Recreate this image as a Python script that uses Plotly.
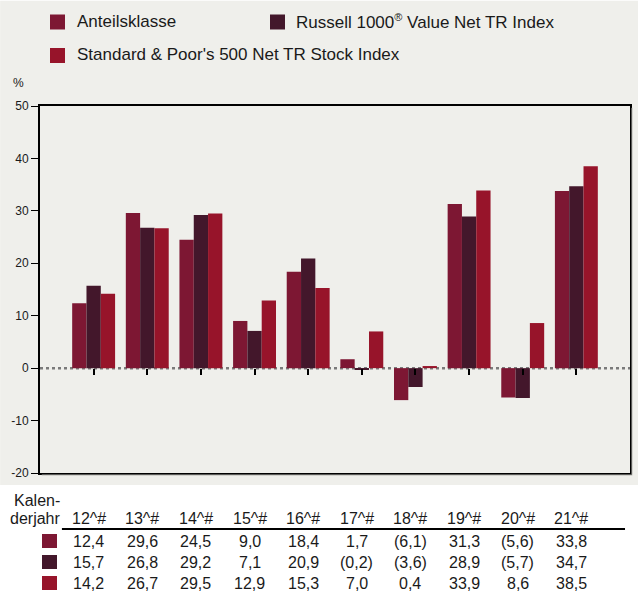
import plotly.graph_objects as go

years = ["12^#", "13^#", "14^#", "15^#", "16^#", "17^#", "18^#", "19^#", "20^#", "21^#"]
anteil = [12.4, 29.6, 24.5, 9.0, 18.4, 1.7, -6.1, 31.3, -5.6, 33.8]
russell = [15.7, 26.8, 29.2, 7.1, 20.9, -0.2, -3.6, 28.9, -5.7, 34.7]
sp500 = [14.2, 26.7, 29.5, 12.9, 15.3, 7.0, 0.4, 33.9, 8.6, 38.5]
names = ["Anteilsklasse",
         "Russell 1000<sup><span style='font-size:11px'>®</span></sup> Value Net TR Index",
         "Standard & Poor's 500 Net TR Stock Index"]
colors = ["#7D1733", "#43172B", "#97142A"]
yticks = [50, 40, 30, 20, 10, 0, -10, -20]

W, H = 640, 594
L, R, T, B = 40, 8, 105.5, 121
PW = W - L - R
PH = H - T - B
BOTTOM = H - B  # pixel y of plot bottom

FONT = "Liberation Sans, Arial, sans-serif"
xs = list(range(len(years)))

fig = go.Figure()
for vals, nm, col in zip([anteil, russell, sp500], names, colors):
    fig.add_trace(go.Bar(x=xs, y=vals, name=nm, marker=dict(color=col, line=dict(width=0)),
                         showlegend=False))

# grey background for upper part
fig.add_shape(type="rect", xref="paper", yref="paper", layer="below",
              x0=-L / PW, x1=(W - L) / PW,
              y0=(BOTTOM - 485) / PH, y1=BOTTOM / PH,
              fillcolor="#EFEFEB", line=dict(width=0))

# frame shadow (right and bottom)
fig.add_shape(type="line", xref="paper", yref="paper", xsizemode="pixel", xanchor=1,
              x0=2, x1=2, y0=-0.004, y1=0.995, line=dict(color="#B5B5B0", width=1))
fig.add_shape(type="line", xref="paper", yref="paper", ysizemode="pixel", yanchor=0,
              x0=0.003, x1=1.004, y0=-2, y1=-2, line=dict(color="#B5B5B0", width=1))

# dotted zero line
fig.add_shape(type="line", xref="paper", yref="y", x0=0, x1=1, y0=0, y1=0,
              layer="below", line=dict(color="#7a7a7a", width=2.5, dash="dot"))

ann = []

def fmt(v):
    s = f"{abs(v):.1f}".replace(".", ",")
    return f"({s})" if v < 0 else s

# legend (manual)
leg = [(0, 50, 21.5, 75), (1, 270, 21.5, 294), (2, 50, 55, 75)]
for i, px, py, tx in leg:
    fig.add_shape(type="rect", xref="paper", yref="paper", xsizemode="pixel", ysizemode="pixel",
                  xanchor=0, yanchor=1, x0=px - L, x1=px - L + 15,
                  y0=T - py - 7.5, y1=T - py + 7.5,
                  fillcolor=colors[i], line=dict(width=0))
    ann.append(dict(x=0, xref="paper", xshift=tx - L, xanchor="left",
                    y=1, yref="paper", yshift=T - py + 1, yanchor="middle",
                    text=names[i], showarrow=False,
                    font=dict(family=FONT, size=17, color="#1a1a1a")))

# % label
ann.append(dict(x=0, xref="paper", xshift=18 - L, xanchor="center", y=1, yref="paper",
                yshift=T - 82, yanchor="middle", text="%", showarrow=False,
                font=dict(family=FONT, size=12, color="#1a1a1a")))

# table
ann.append(dict(x=0, xref="paper", xshift=62 - L, xanchor="right", y=0, yref="paper",
                yshift=BOTTOM - 500, yanchor="middle", text="Kalen-", showarrow=False,
                font=dict(family=FONT, size=16, color="#1a1a1a")))
ann.append(dict(x=0, xref="paper", xshift=62 - L, xanchor="right", y=0, yref="paper",
                yshift=BOTTOM - 518, yanchor="middle", text="derjahr", showarrow=False,
                font=dict(family=FONT, size=16, color="#1a1a1a")))
for i, yr in enumerate(years):
    ann.append(dict(x=i, xref="x", xshift=-5, xanchor="center", y=0, yref="paper",
                    yshift=BOTTOM - 518, yanchor="middle", text=yr, showarrow=False,
                    font=dict(family=FONT, size=16, color="#1a1a1a")))
rows_y = [541, 562, 583]
for r, vals in enumerate([anteil, russell, sp500]):
    fig.add_shape(type="rect", xref="paper", yref="paper", xsizemode="pixel", ysizemode="pixel",
                  xanchor=0, yanchor=0, x0=42 - L, x1=57 - L,
                  y0=BOTTOM - rows_y[r] - 7, y1=BOTTOM - rows_y[r] + 7,
                  fillcolor=colors[r], line=dict(width=0))
    for i, v in enumerate(vals):
        ann.append(dict(x=i, xref="x", xshift=-5, xanchor="center", y=0, yref="paper",
                        yshift=BOTTOM - rows_y[r], yanchor="middle", text=fmt(v), showarrow=False,
                        font=dict(family=FONT, size=16, color="#1a1a1a")))

fig.add_shape(type="line", xref="paper", yref="paper", ysizemode="pixel", yanchor=0,
              x0=(62 - L) / PW, x1=(627 - L) / PW,
              y0=BOTTOM - 529, y1=BOTTOM - 529, line=dict(color="black", width=2))

fig.update_layout(
    width=W, height=H,
    margin=dict(l=L, r=R, t=T, b=B, pad=0),
    paper_bgcolor="white", plot_bgcolor="#EFEFEB",
    barmode="group", bargap=0.2, bargroupgap=0,
    annotations=ann,
    font=dict(family=FONT, color="#1a1a1a"),
    xaxis=dict(range=[-1, 10], showgrid=False, zeroline=False, showticklabels=False,
               showline=True, linecolor="black", linewidth=2, mirror=True, ticks=""),
    xaxis2=dict(range=[-1, 10], overlaying="x", anchor="free", position=20 / 70,
                tickvals=xs, ticks="outside", ticklen=6, tickwidth=1.5, tickcolor="black",
                showticklabels=False, showgrid=False, zeroline=False, showline=False),
    yaxis=dict(range=[-20, 50], tickvals=yticks, ticktext=[str(v) for v in yticks],
               showgrid=False, zeroline=False, showline=True, linecolor="black", linewidth=2,
               mirror=True, ticks="outside", ticklen=7, tickwidth=1, tickcolor="black",
               tickfont=dict(family=FONT, size=12, color="#1a1a1a")),
)
# dummy invisible trace to activate xaxis2
fig.add_trace(go.Scatter(x=[0], y=[0], xaxis="x2", mode="markers",
                         marker=dict(opacity=0), showlegend=False, hoverinfo="skip"))

fig.write_html("out.html", config={"displayModeBar": False},
               post_script="document.body.style.margin='0';document.body.style.overflow='hidden';")
